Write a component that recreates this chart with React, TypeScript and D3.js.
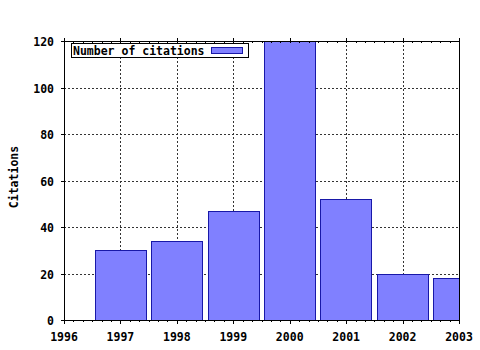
import React from "react";
import * as d3 from "d3";

const years = [1997, 1998, 1999, 2000, 2001, 2002, 2003];
const citations = [30, 34, 47, 120, 52, 20, 18];
const xTicks = [1996, 1997, 1998, 1999, 2000, 2001, 2002, 2003];
const yTicks = [0, 20, 40, 60, 80, 100, 120];
const legendLabel = "Number of citations";
const yTitle = "Citations";

const W = 480, H = 350;
const L = 64, R = 459, T = 41, B = 320;
const FONT = "'DejaVu Sans Mono', monospace";
const BAR_FILL = "#8080ff";
const BAR_STROKE = "#1818a8";

export default function App() {
  const x = d3.scaleLinear().domain([1996, 2003]).range([L, R]);
  const y = d3.scaleLinear().domain([0, 120]).range([B, T]);
  const bw = (x(1997) - x(1996)) * 0.91;
  const minor: number[] = [];
  for (let yr = 1996; yr < 2003; yr++) for (let k = 1; k < 6; k++) minor.push(yr + k / 6);
  return (
    <svg width={W} height={H} style={{ position: "absolute", left: 0, top: 0, background: "#fff" }}>
      <defs>
        <clipPath id="plot"><rect x={L} y={T} width={R - L} height={B - T} /></clipPath>
      </defs>
      <rect x={0} y={0} width={W} height={H} fill="#fff" />
      {/* grid */}
      <g stroke="#333" strokeWidth={1} strokeDasharray="2,2" shapeRendering="crispEdges">
        {yTicks.slice(1, -1).map((t) => (
          <line key={"gy" + t} x1={L} x2={R} y1={Math.round(y(t)) + 0.5} y2={Math.round(y(t)) + 0.5} />
        ))}
        {xTicks.slice(1, -1).map((t) => (
          <line key={"gx" + t} y1={T} y2={B} x1={Math.round(x(t)) + 0.5} x2={Math.round(x(t)) + 0.5} />
        ))}
      </g>
      {/* bars */}
      <g clipPath="url(#plot)" shapeRendering="crispEdges">
        {years.map((yr, i) => (
          <rect key={yr} x={Math.round(x(yr) - bw / 2) + 0.5} y={Math.round(y(Math.min(citations[i], 120))) + 0.5}
            width={Math.round(bw)} height={Math.round(B - y(Math.min(citations[i], 120)))}
            fill={BAR_FILL} stroke={BAR_STROKE} strokeWidth={1} />
        ))}
      </g>
      {/* frame */}
      <g stroke="#000" strokeWidth={1} shapeRendering="crispEdges" fill="none">
        <line x1={L + 0.5} x2={L + 0.5} y1={T - 3} y2={B + 1} />
        <line x1={R + 0.5} x2={R + 0.5} y1={T - 3} y2={B + 1} />
        <line x1={L} x2={R + 1} y1={B + 0.5} y2={B + 0.5} />
        <line x1={L} x2={R + 1} y1={T + 0.5} y2={T + 0.5} />
        {yTicks.map((t) => (
          <line key={"ty" + t} x1={L - 3} x2={L} y1={Math.round(y(t)) + 0.5} y2={Math.round(y(t)) + 0.5} />
        ))}
        {xTicks.map((t) => (
          <g key={"tx" + t}>
            <line x1={Math.round(x(t)) + 0.5} x2={Math.round(x(t)) + 0.5} y1={B} y2={B + 4} />
            <line x1={Math.round(x(t)) + 0.5} x2={Math.round(x(t)) + 0.5} y1={T - 3} y2={T + 2} />
          </g>
        ))}
        {minor.map((t, i) => (
          <g key={"mx" + i}>
            <line x1={Math.round(x(t)) + 0.5} x2={Math.round(x(t)) + 0.5} y1={B} y2={B + 2} />
            <line x1={Math.round(x(t)) + 0.5} x2={Math.round(x(t)) + 0.5} y1={T} y2={T + 2} />
          </g>
        ))}
      </g>
      {/* labels */}
      <g fontFamily={FONT} fontWeight="bold" fontSize={11.5} fill="#000">
        {yTicks.map((t) => (
          <text key={"ly" + t} x={54} y={y(t) + 5} textAnchor="end">{t}</text>
        ))}
        {xTicks.map((t) => (
          <text key={"lx" + t} x={x(t)} y={341} textAnchor="middle">{t}</text>
        ))}
        <text transform={`translate(18,177) rotate(-90)`} textAnchor="middle">{yTitle}</text>
      </g>
      {/* legend */}
      <g shapeRendering="crispEdges">
        <rect x={71.5} y={43.5} width={177} height={14} fill="#fff" stroke="#000" />
        <text x={73} y={55} fontFamily={FONT} fontWeight="bold" fontSize={11.5}>{legendLabel}</text>
        <rect x={211.5} y={47.5} width={31} height={6} fill={BAR_FILL} stroke={BAR_STROKE} />
      </g>
    </svg>
  );
}
